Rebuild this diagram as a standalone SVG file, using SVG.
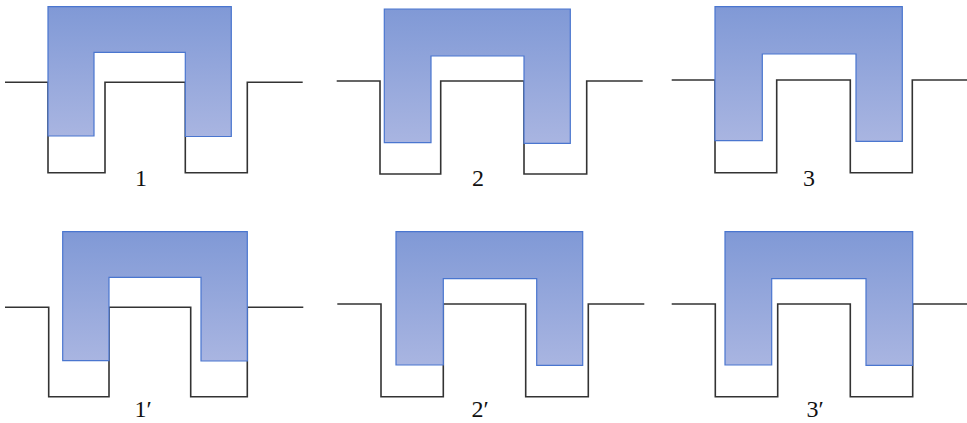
<svg xmlns="http://www.w3.org/2000/svg" width="967" height="423" viewBox="0 0 967 423">
<defs>
<linearGradient id="g" x1="0" y1="0" x2="0" y2="1">
<stop offset="0" stop-color="#8099D6"/>
<stop offset="1" stop-color="#A9B5E1"/>
</linearGradient>
</defs>
<style>
.c{fill:url(#g);stroke:#4A76CF;stroke-width:1.2}
.t{fill:none;stroke:#333;stroke-width:1.6}
.l{font-family:"Liberation Serif","Times New Roman",serif;font-size:24px;fill:#111;text-anchor:middle}
</style>
<rect width="967" height="423" fill="#fff"/>
<g id="panel1">
<path class="t" d="M5 82.3H48V172.7H105V82.3H185.3V172.7H247.3V82.3H302.7"/>
<path class="c" d="M48 6.7H231.3V136.5H185.3V52.3H94V136H48Z"/>
<text class="l" x="141" y="186">1</text>
</g>
<g id="panel2">
<path class="t" d="M336.7 81H380V174H440.7V81H524V174H586.7V81H642.7"/>
<path class="c" d="M384.3 9H570.3V143.3H524V56H431V142.7H384.3Z"/>
<text class="l" x="478" y="186">2</text>
</g>
<g id="panel3">
<path class="t" d="M671.7 80H715V172.7H776.7V80H850.3V172.7H912.3V80H967"/>
<path class="c" d="M715 6.7H902.3V141.3H856V54H762.3V140.7H715Z"/>
<text class="l" x="809" y="186">3</text>
</g>
<g id="panel1p">
<path class="t" d="M5 307.3H48.7V396.7H109V307.3H190.7V396.7H247.3V307.3H303.3"/>
<path class="c" d="M62.7 231.7H247.3V361H201V277.3H109V360.7H62.7Z"/>
<text class="l" x="143" y="417">1′</text>
</g>
<g id="panel2p">
<path class="t" d="M337.3 304H381V396.7H443.3V304H525.7V396.7H588.3V304H644.3"/>
<path class="c" d="M396 231.7H582.7V365.3H536.7V278.7H443.3V365H396Z"/>
<text class="l" x="480" y="417">2′</text>
</g>
<g id="panel3p">
<path class="t" d="M671.7 304H715.3V396.7H777.7V304H850.3V396.7H912.7V304H967"/>
<path class="c" d="M725 231.7H912.7V365.3H866V278.7H771.7V365H725Z"/>
<text class="l" x="815" y="417">3′</text>
</g>
<g id="connectors"/>
</svg>
